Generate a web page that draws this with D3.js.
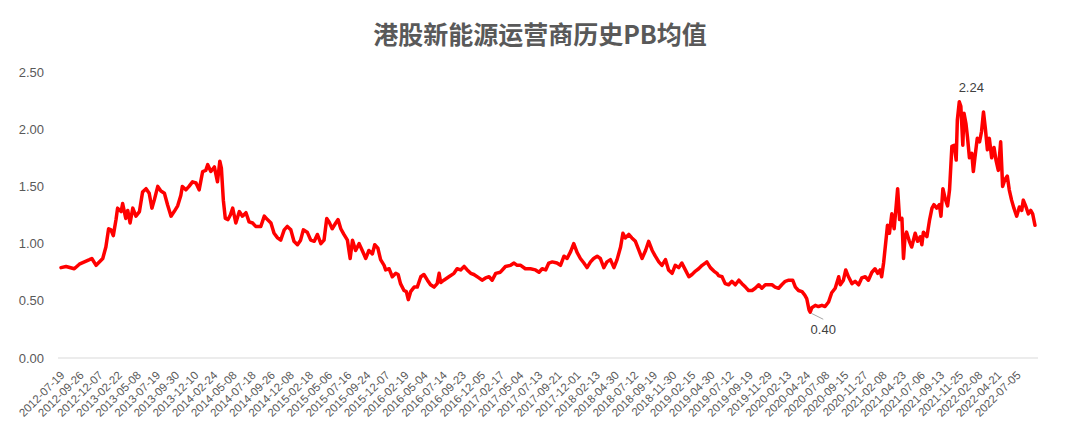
<!DOCTYPE html>
<html>
<head>
<meta charset="utf-8">
<script src="https://cdn.jsdelivr.net/npm/d3@7"></script>
<style>
  body { margin: 0; background: #fff; }
  svg { display: block; }
</style>
</head>
<body>
<div id="chart"></div>
<script>
// trading-session index (counted from 2012-07-19) and the PB mean
const sessions = [
  0,13,34,47,73,79,90,107,115,122,128,134,141,145,154,158,166,171,177,184,
  192,201,209,218,226,233,239,248,256,265,273,282,290,299,307,311,320,328,337,346,
  354,363,371,376,384,393,401,407,411,416,421,
  428,434,440,448,457,465,474,482,491,499,508,512,521,529,538,546,555,563,572,580,
  589,597,606,614,621,631,640,649,657,666,674,681,687,695,704,710,717,725,734,741,
  747,755,764,772,781,789,798,804,812,819,828,832,
  841,849,858,864,870,879,885,890,896,905,913,922,930,939,947,956,964,969,973,981,
  994,1007,1015,1024,1033,1041,1050,1058,1071,1079,1088,1097,1105,1114,1126,1139,1152,1161,1169,1178,
  1190,1203,1216,1225,1233,1242,1250,1259,
  1271,1280,1289,1297,1306,1314,1323,1331,1340,1348,1357,1365,1374,1382,1391,1399,1408,1417,1425,1434,
  1440,1446,1455,1463,1472,1481,1489,1498,1506,1515,1523,1532,1540,1549,1557,1566,1574,1583,1591,1600,
  1609,1617,1626,1634,1643,1651,1655,1664,1673,1681,
  1685,1694,1702,1711,1719,1728,1737,1745,1754,1762,1771,1779,1788,1796,1805,1813,1822,1830,1839,1847,
  1856,1865,1875,1882,1890,1899,1906,1911,1917,1920,1924,1933,1941,1950,1958,1967,1975,1984,1993,1997,
  2005,2011,2018,2027,2035,2044,2052,2061,2069,2078,2086,2093,2099,2103,2108,
  2115,2118,2123,2129,2135,2140,2144,2149,2155,2159,2163,2167,2174,2180,2189,2195,2202,2206,2210,2219,
  2226,2232,2237,2244,2251,2255,2260,2266,2272,2277,2283,2289,2294,2297,2302,2306,2311,2314,2319,2323,
  2328,2334,2338,2342,2348,2354,2359,2364,2369,2374,2379,2385,2391,2396,2402,2408,2413,2419,2425,2430,
  2436,2442,2449,2456,2462,2466,2473,2479,2485,2490,2496
];

const pb = [
  0.79,0.80,0.78,0.82,0.86,0.87,0.81,0.87,0.97,1.13,1.12,1.07,1.21,1.31,1.28,1.35,1.22,1.29,1.18,1.31,
  1.24,1.28,1.45,1.48,1.44,1.31,1.38,1.50,1.46,1.44,1.34,1.24,1.28,1.33,1.42,1.50,1.47,1.50,1.54,1.53,
  1.47,1.63,1.64,1.69,1.63,1.67,1.54,1.72,1.66,1.38,1.22,
  1.21,1.25,1.31,1.18,1.28,1.24,1.27,1.19,1.18,1.15,1.15,1.15,1.24,1.21,1.18,1.09,1.05,1.03,1.12,1.15,
  1.12,1.02,0.99,1.03,1.12,1.10,1.03,1.02,1.08,1.00,1.03,1.22,1.19,1.13,1.18,1.21,1.13,1.08,1.03,0.87,
  1.03,0.94,1.00,0.94,0.87,0.94,0.91,0.99,0.96,0.86,0.81,0.77,
  0.78,0.71,0.74,0.73,0.65,0.59,0.58,0.51,0.58,0.62,0.62,0.71,0.73,0.68,0.64,0.62,0.65,0.74,0.66,0.68,
  0.71,0.74,0.78,0.77,0.80,0.77,0.74,0.73,0.70,0.68,0.70,0.71,0.68,0.74,0.75,0.80,0.81,0.83,0.81,0.81,
  0.78,0.78,0.77,0.75,0.78,0.77,0.83,0.84,
  0.83,0.81,0.89,0.87,0.93,1.00,0.92,0.87,0.83,0.79,0.84,0.87,0.89,0.87,0.79,0.84,0.86,0.79,0.86,0.97,
  1.09,1.05,1.08,1.05,1.02,0.94,0.87,0.94,1.02,0.94,0.89,0.84,0.81,0.86,0.77,0.74,0.81,0.79,0.83,0.77,
  0.71,0.73,0.76,0.78,0.81,0.83,0.84,0.79,0.76,0.74,
  0.72,0.71,0.65,0.64,0.67,0.64,0.68,0.65,0.62,0.59,0.59,0.61,0.64,0.61,0.64,0.64,0.64,0.62,0.61,0.64,
  0.67,0.68,0.68,0.62,0.59,0.58,0.55,0.52,0.42,0.40,0.44,0.46,0.45,0.46,0.45,0.49,0.57,0.61,0.71,0.64,
  0.68,0.77,0.71,0.65,0.67,0.64,0.70,0.71,0.68,0.75,0.78,0.74,0.77,0.71,0.83,
  1.06,1.16,1.09,1.26,1.13,1.32,1.48,1.21,1.22,0.87,1.06,1.10,1.02,0.97,1.09,1.02,1.06,0.99,1.10,1.06,
  1.21,1.31,1.34,1.31,1.34,1.24,1.48,1.39,1.33,1.47,1.85,1.86,1.73,2.08,2.24,2.20,1.86,2.14,2.05,1.93,
  1.75,1.79,1.63,1.75,1.92,1.89,1.98,2.15,2.00,1.82,1.92,1.75,1.84,1.73,1.64,1.89,1.50,1.56,1.59,1.47,
  1.38,1.31,1.24,1.32,1.29,1.38,1.32,1.26,1.29,1.26,1.16
];

// category labels shown on the x axis, one every 49 sessions
const tickLabels = [
  '2012-07-19','2012-09-26','2012-12-07','2013-02-22','2013-05-08','2013-07-19','2013-09-30',
  '2013-12-10','2014-02-24','2014-05-08','2014-07-18','2014-09-26','2014-12-08','2015-02-18',
  '2015-05-06','2015-07-16','2015-09-24','2015-12-07','2016-02-19','2016-05-04','2016-07-14',
  '2016-09-23','2016-12-05','2017-02-17','2017-05-04','2017-07-13','2017-09-21','2017-12-01',
  '2018-02-13','2018-04-30','2018-07-12','2018-09-19','2018-11-30','2019-02-15','2019-04-30',
  '2019-07-12','2019-09-19','2019-11-29','2020-02-13','2020-04-24','2020-07-08','2020-09-15',
  '2020-11-27','2021-02-08','2021-04-23','2021-07-06','2021-09-13','2021-11-25','2022-02-08',
  '2022-04-21','2022-07-05'
];
const tickStep = 49;
const yTicks = [0, 0.5, 1, 1.5, 2, 2.5];

const width = 1080;
const height = 431;
const margin = { top: 72, right: 45, bottom: 73, left: 61 };
const font = '"Liberation Sans", Arial, sans-serif';

const svg = d3.select('#chart')
  .append('svg')
  .attr('width', width)
  .attr('height', height);

const x = d3.scaleLinear()
  .domain([0, d3.max(sessions)])
  .range([margin.left, width - margin.right]);

const y = d3.scaleLinear()
  .domain([0, 2.5])
  .range([height - margin.bottom, margin.top]);

// title
svg.append('text')
  .attr('x', width / 2)
  .attr('y', 44)
  .attr('text-anchor', 'middle')
  .attr('font-family', '"Noto Sans CJK SC", sans-serif')
  .attr('font-weight', 'bold')
  .attr('font-size', '25px')
  .attr('fill', '#595959')
  .text('港股新能源运营商历史PB均值');

// y axis labels
function yAxis(g) {
  g.attr('transform', `translate(${margin.left - 3},0)`)
    .call(d3.axisLeft(y).tickValues(yTicks).tickFormat(d3.format('.2f')).tickSize(0).tickPadding(14))
    .call(g => g.select('.domain').remove())
    .attr('font-family', font)
    .attr('font-size', '13px')
    .selectAll('text').attr('fill', '#595959');
}

// x axis with rotated category labels
function xAxis(g) {
  g.attr('transform', `translate(0,${y(0)})`)
    .call(d3.axisBottom(x)
      .tickValues(tickLabels.map((d, i) => i * tickStep))
      .tickFormat((d, i) => tickLabels[i])
      .tickSize(0))
    .call(g => g.select('.domain').remove())
    .attr('font-family', font)
    .attr('font-size', '11.5px');
  g.selectAll('text')
    .attr('fill', '#595959')
    .attr('text-anchor', 'end')
    .attr('x', 0)
    .attr('y', 0)
    .attr('dy', '0.35em')
    .attr('transform', 'translate(1,15) rotate(-45)');
}

svg.append('line')
  .attr('x1', margin.left - 3)
  .attr('x2', width - margin.right + 3)
  .attr('y1', y(0))
  .attr('y2', y(0))
  .attr('stroke', '#d9d9d9')
  .attr('stroke-width', 1);

svg.append('g').call(yAxis);
svg.append('g').call(xAxis);

const line = d3.line()
  .x((d, i) => x(sessions[i]))
  .y(d => y(d));

svg.append('path')
  .datum(pb)
  .attr('fill', 'none')
  .attr('stroke', '#ff0000')
  .attr('stroke-width', 3.5)
  .attr('stroke-linejoin', 'round')
  .attr('stroke-linecap', 'round')
  .attr('d', line);

// max / min annotations
const iMax = d3.maxIndex(pb);
const iMin = d3.minIndex(pb);
const fmt = d3.format('.2f');

svg.append('text')
  .attr('x', x(sessions[iMax]) + 12)
  .attr('y', y(pb[iMax]) - 14)
  .attr('dy', '0.35em')
  .attr('text-anchor', 'middle')
  .attr('font-family', font)
  .attr('font-size', '13px')
  .attr('fill', '#404040')
  .text(fmt(pb[iMax]));

svg.append('line')
  .attr('x1', x(sessions[iMin]) + 1)
  .attr('y1', y(pb[iMin]) + 1)
  .attr('x2', x(sessions[iMin]) + 13)
  .attr('y2', y(pb[iMin]) + 7)
  .attr('stroke', '#a6a6a6')
  .attr('stroke-width', 1);

svg.append('text')
  .attr('x', x(sessions[iMin]) + 13)
  .attr('y', y(pb[iMin]) + 17)
  .attr('dy', '0.35em')
  .attr('text-anchor', 'middle')
  .attr('font-family', font)
  .attr('font-size', '13px')
  .attr('fill', '#404040')
  .text(fmt(pb[iMin]));
</script>
</body>
</html>
